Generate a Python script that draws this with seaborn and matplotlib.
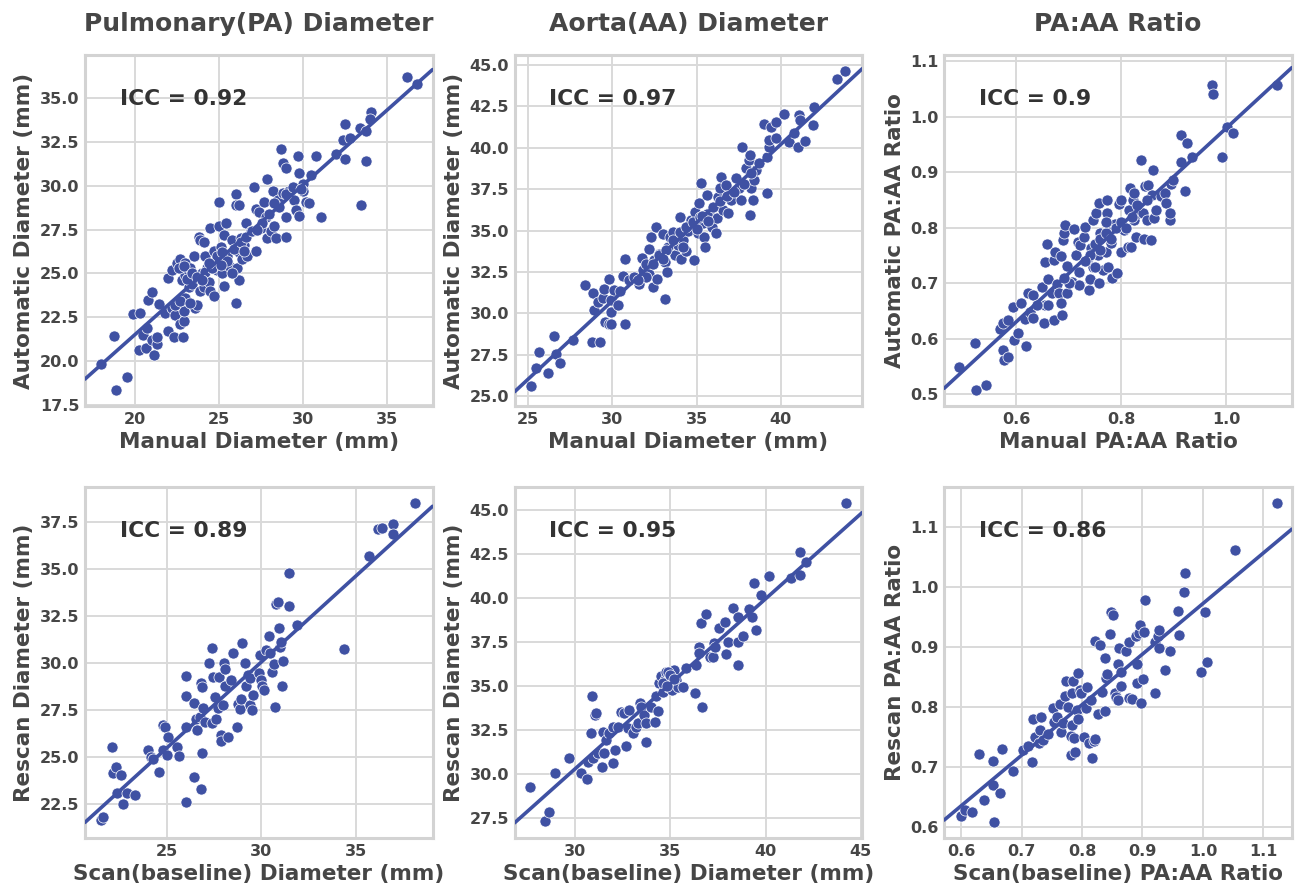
import numpy as np
import pandas as pd
import matplotlib
matplotlib.use("Agg")
import matplotlib.pyplot as plt
from matplotlib.ticker import MultipleLocator
import seaborn as sns

# ---------------- data ----------------
# Panel 1: Pulmonary (PA) diameter, manual vs automatic
pa_manual = [17.98, 18.87, 18.77, 19.5, 19.9, 20.3, 20.26, 20.65, 20.5, 20.73, 20.8, 21.0, 21.0, 21.13, 21.29,
             21.33, 21.45, 21.78, 21.98, 21.98, 22.2, 22.4, 22.34, 22.87, 22.7, 22.9, 22.9, 22.2, 22.5, 22.7,
             22.8, 23.0, 23.0, 23.2, 23.3, 23.0, 23.2, 23.4, 23.6, 23.7, 23.5, 23.8, 23.9, 24.1, 24.0,
             23.9, 24.1, 24.2, 24.3, 24.4, 24.5, 24.5, 24.7, 24.7, 24.6, 24.9, 25.0, 25.0, 25.1, 25.2,
             25.3, 25.3, 25.4, 25.5, 25.6, 25.8, 26.0, 26.0, 26.2, 26.0, 26.1, 26.2, 26.2, 26.3, 26.4,
             26.5, 26.6, 26.7, 26.9, 27.1, 27.2, 27.2, 27.4, 27.5, 27.7, 27.8, 27.9, 27.9, 28.1, 28.2,
             28.3, 28.4, 28.5, 28.7, 28.8, 28.8, 29.0, 29.0, 29.0, 29.2, 29.5, 29.6, 29.7, 29.8, 29.8,
             30.0, 30.0, 30.2, 30.4, 30.5, 30.8, 31.1, 32.0, 32.4, 32.5, 32.5, 32.8, 33.4, 33.5, 33.8,
             33.8, 34.1, 34.0, 36.2, 36.8,
             22.6, 22.9, 23.1, 23.4, 23.7, 24.2, 24.6, 24.9, 25.2, 25.5, 25.9, 26.3, 26.6, 27.0, 27.6,
             28.0, 28.6, 29.0, 29.4, 22.4, 22.7, 23.3, 24.0, 25.8, 26.5, 28.3, 29.9, 27.3, 25.1, 24.4]
pa_auto = [19.83, 18.35, 21.43, 19.1, 22.7, 22.77, 20.63, 20.77, 21.5, 21.87, 23.5, 23.95, 21.2, 20.35, 20.97,
           21.35, 23.26, 22.73, 21.72, 24.73, 23.0, 22.6, 21.4, 21.4, 22.1, 22.3, 22.85, 25.2, 25.6, 25.8,
           24.6, 25.6, 24.9, 25.1, 25.3, 23.6, 24.2, 24.4, 23.0, 23.2, 26.0, 27.1, 26.9, 26.8, 25.0,
           24.0, 24.2, 26.0, 25.3, 24.5, 27.6, 24.0, 23.7, 26.3, 25.6, 25.2, 27.7, 29.1, 26.5, 25.0,
           24.3, 27.2, 27.9, 26.0, 25.4, 26.9, 29.5, 28.9, 28.9, 23.3, 25.3, 24.6, 26.2, 27.0, 25.8,
           26.6, 27.9, 26.0, 27.4, 29.9, 28.7, 26.3, 28.5, 27.6, 29.1, 28.2, 30.4, 27.0, 27.4, 29.7,
           27.7, 27.0, 29.2, 32.1, 29.6, 31.3, 31.0, 28.2, 27.1, 29.7, 29.2, 28.6, 31.7, 30.7, 28.3,
           30.1, 29.7, 29.1, 29.0, 30.6, 31.7, 28.2, 31.8, 32.6, 33.5, 31.5, 32.7, 33.3, 28.9, 33.1,
           31.4, 34.2, 33.8, 36.2, 35.8,
           25.3, 25.4, 24.7, 25.0, 24.8, 25.1, 25.3, 26.0, 26.2, 25.7, 26.4, 26.8, 27.1, 27.4, 27.9,
           28.4, 28.8, 29.5, 29.9, 23.2, 23.4, 23.3, 24.6, 25.0, 26.3, 29.0, 29.8, 27.5, 25.5, 25.6]

# Panel 2: Aorta (AA) diameter, manual vs automatic
aa_manual = [25.16, 25.5, 25.63, 26.18, 26.54, 26.68, 26.9, 27.7, 28.38, 28.8, 29.3, 28.85, 28.9, 29.15, 29.44,
             29.54, 29.6, 29.8, 29.93, 29.78, 29.93, 29.93, 30.13, 30.35, 30.47, 30.74, 30.74, 30.66, 31.0, 31.3,
             31.57, 31.75, 31.85, 32.0, 32.16, 32.2, 32.3, 32.4, 32.5, 32.6, 32.66, 32.8, 33.0, 33.1, 33.15,
             33.23, 33.3, 33.4, 33.62, 33.75, 33.88, 34.0, 34.08, 34.22, 34.38, 34.48, 34.67, 34.87, 34.9, 35.07,
             35.17, 35.25, 35.37, 35.46, 35.52, 35.6, 35.76, 35.9, 36.15, 36.2, 36.3, 36.4, 36.45, 36.55, 36.75,
             36.84, 37.04, 37.33, 37.53, 37.63, 37.7, 37.93, 38.13, 38.16, 38.16, 38.22, 38.32, 38.42, 38.5, 38.7,
             39.0, 39.15, 39.2, 39.27, 39.27, 39.4, 39.7, 39.7, 40.2, 40.5, 40.8, 41.0, 41.05, 41.13, 41.44,
             41.88, 41.97, 43.3, 43.8,
             32.4, 32.8, 33.2, 33.6, 34.0, 34.4, 34.8, 35.2, 35.6, 36.0, 36.4, 36.8, 32.0, 31.5, 33.0,
             34.2, 35.0, 35.3, 35.7, 37.2, 37.8, 38.2]
aa_auto = [25.6, 26.67, 27.67, 26.4, 28.62, 27.57, 27.0, 28.4, 31.7, 28.28, 28.28, 31.2, 30.2, 30.7, 30.9,
           31.44, 29.48, 29.33, 29.38, 32.1, 30.1, 30.8, 31.4, 30.5, 31.36, 29.35, 33.3, 32.25, 32.0, 32.17,
           31.74, 33.37, 32.6, 33.0, 32.4, 33.9, 34.6, 31.6, 33.2, 35.23, 32.1, 33.6, 34.8, 30.84, 33.1,
           32.5, 34.0, 34.6, 34.93, 33.5, 34.1, 35.8, 33.3, 34.4, 33.78, 35.0, 35.63, 33.2, 36.1, 34.83,
           36.64, 37.85, 35.43, 34.6, 34.0, 37.14, 36.04, 35.23, 34.87, 35.73, 37.04, 37.55, 38.25, 36.24, 37.75,
           36.04, 36.84, 38.15, 37.55, 36.84, 40.02, 38.75, 39.26, 39.56, 35.93, 37.55, 36.84, 38.05, 38.65, 39.06,
           41.43, 37.28, 39.42, 40.06, 40.47, 41.27, 41.57, 40.57, 42.04, 40.37, 40.9, 40.06, 41.98, 41.68, 40.43,
           41.37, 42.44, 44.15, 44.66,
           33.0, 33.5, 33.8, 34.4, 34.9, 35.2, 35.5, 35.8, 36.0, 36.4, 36.8, 37.1, 32.2, 32.0, 33.3,
           34.0, 35.1, 35.9, 35.6, 37.3, 37.8, 38.5]

# Panel 3: PA:AA ratio, manual vs automatic
ratio_manual = [0.491, 0.520, 0.523, 0.541, 0.568, 0.574, 0.576, 0.584, 0.574, 0.584, 0.594, 0.595, 0.602, 0.608,
                0.616, 0.619, 0.622, 0.626, 0.632, 0.632, 0.648, 0.652, 0.654, 0.655, 0.658, 0.661, 0.667, 0.671,
                0.671, 0.674, 0.677, 0.682, 0.685, 0.685, 0.687, 0.689, 0.691, 0.692, 0.696, 0.697, 0.706, 0.709,
                0.714, 0.717, 0.719, 0.722, 0.728, 0.731, 0.735, 0.738, 0.740, 0.742, 0.746, 0.747, 0.751, 0.755,
                0.757, 0.757, 0.760, 0.765, 0.770, 0.772, 0.773, 0.774, 0.778, 0.781, 0.783, 0.789, 0.791, 0.796,
                0.799, 0.800, 0.805, 0.812, 0.815, 0.817, 0.819, 0.823, 0.824, 0.824, 0.828, 0.832, 0.838, 0.842,
                0.844, 0.845, 0.850, 0.851, 0.856, 0.858, 0.860, 0.863, 0.866, 0.876, 0.883, 0.885, 0.894, 0.894,
                0.895, 0.899, 0.914, 0.915, 0.921, 0.926, 0.935, 0.974, 0.975, 0.992, 1.001, 1.013, 1.097,
                0.74, 0.75, 0.76, 0.77, 0.78, 0.79, 0.80, 0.76, 0.73, 0.72, 0.70, 0.69, 0.66, 0.64, 0.81,
                0.82, 0.83, 0.85, 0.77, 0.75]
ratio_auto = [0.550, 0.592, 0.508, 0.516, 0.617, 0.580, 0.562, 0.567, 0.628, 0.633, 0.658, 0.597, 0.610, 0.665,
              0.635, 0.587, 0.682, 0.649, 0.637, 0.679, 0.694, 0.628, 0.660, 0.738, 0.770, 0.707, 0.683, 0.634,
              0.742, 0.757, 0.699, 0.682, 0.749, 0.664, 0.643, 0.778, 0.790, 0.804, 0.731, 0.682, 0.702, 0.797,
              0.750, 0.774, 0.697, 0.768, 0.784, 0.802, 0.742, 0.687, 0.708, 0.763, 0.814, 0.730, 0.826, 0.751,
              0.700, 0.845, 0.790, 0.723, 0.757, 0.850, 0.826, 0.730, 0.796, 0.772, 0.709, 0.807, 0.718, 0.843,
              0.757, 0.850, 0.796, 0.766, 0.831, 0.871, 0.765, 0.850, 0.862, 0.814, 0.784, 0.826, 0.921, 0.826,
              0.779, 0.875, 0.813, 0.877, 0.778, 0.859, 0.903, 0.817, 0.832, 0.857, 0.862, 0.844, 0.814, 0.826,
              0.879, 0.886, 0.918, 0.967, 0.866, 0.952, 0.927, 1.056, 1.040, 0.928, 0.981, 0.970, 1.056,
              0.75, 0.77, 0.78, 0.79, 0.78, 0.80, 0.81, 0.76, 0.74, 0.72, 0.70, 0.71, 0.66, 0.66, 0.80,
              0.82, 0.84, 0.85, 0.81, 0.73]

# Panel 4: PA diameter, scan vs rescan
pa_scan = [21.54, 21.67, 22.1, 22.19, 22.33, 22.58, 22.4, 22.68, 22.9, 23.33, 24.04, 24.16, 24.3, 24.61, 24.79,
           24.82, 24.91, 25.0, 25.09, 25.56, 25.67, 26.0, 26.05, 26.05, 26.02, 26.44, 26.46, 26.54, 26.6, 26.75,
           26.79, 26.86, 26.84, 26.88, 26.93, 27.02, 27.25, 27.4, 27.46, 27.4, 27.54, 27.6, 27.72, 27.77, 27.89,
           27.86, 27.95, 28.02, 28.07, 28.09, 28.25, 28.42, 28.51, 28.72, 28.77, 28.86, 28.95, 29.0, 29.12, 29.18,
           29.3, 29.39, 29.42, 29.53, 29.56, 29.88, 29.91, 30.0, 30.05, 30.14, 30.26, 30.4, 30.47, 30.58, 30.65,
           30.7, 30.75, 30.89, 30.93, 30.96, 31.02, 31.11, 31.16, 31.46, 31.46, 31.89, 34.35, 35.65, 36.14, 36.37,
           36.96, 36.96, 38.12]
pa_rescan = [21.63, 21.81, 25.54, 24.15, 24.47, 24.03, 23.05, 22.46, 23.05, 22.96, 25.36, 25.0, 24.9, 24.2, 25.36,
             26.69, 26.6, 25.1, 26.07, 25.5, 25.04, 29.3, 28.23, 26.6, 22.6, 27.84, 23.94, 26.99, 26.42, 27.13,
             28.94, 28.73, 23.26, 25.18, 27.58, 26.87, 30.01, 30.81, 29.23, 26.78, 28.2, 26.99, 27.58, 29.23, 26.16,
             25.84, 27.75, 30.01, 28.77, 29.65, 26.07, 29.09, 30.5, 26.6, 27.79, 27.52, 28.06, 31.04, 30.01, 28.77,
             29.35, 27.75, 29.17, 27.49, 28.29, 29.44, 30.42, 29.09, 28.77, 28.55, 30.68, 31.43, 30.5, 29.53, 29.94,
             27.67, 33.12, 33.26, 31.84, 30.86, 31.13, 28.77, 30.1, 34.77, 33.03, 32.01, 30.75, 35.69, 37.11, 37.2,
             37.38, 36.86, 38.53]

# Panel 5: AA diameter, scan vs rescan
aa_scan = [27.65, 28.42, 28.65, 28.93, 29.68, 30.32, 30.63, 30.67, 30.89, 30.84, 30.93, 31.02, 31.1, 31.19, 31.4,
           31.45, 31.49, 31.63, 31.8, 31.98, 32.01, 32.1, 32.24, 32.42, 32.59, 32.68, 32.77, 32.85, 33.03, 33.2,
           33.29, 33.38, 33.47, 33.64, 33.7, 33.73, 34.0, 34.17, 34.22, 34.34, 34.4, 34.52, 34.61, 34.7, 34.78,
           34.87, 34.96, 35.1, 35.17, 35.31, 35.4, 35.66, 35.8, 36.3, 36.36, 36.5, 36.5, 36.62, 36.67, 36.85,
           37.06, 37.23, 37.27, 37.32, 37.55, 37.85, 37.9, 38.02, 38.28, 38.55, 38.55, 38.55, 38.81, 39.12, 39.3,
           39.37, 39.47, 39.77, 40.16, 41.35, 41.82, 41.82, 42.1, 44.2,
           34.6, 34.9, 35.0, 35.2, 34.8]
aa_rescan = [29.24, 27.33, 27.86, 30.04, 30.89, 30.04, 29.7, 30.7, 34.43, 32.35, 30.89, 33.35, 33.48, 31.17, 30.42,
             32.41, 31.17, 31.93, 32.31, 30.64, 32.69, 31.36, 32.69, 33.54, 33.45, 31.59, 32.59, 33.64, 32.31, 32.69,
             32.88, 34.02, 33.83, 33.35, 31.84, 32.88, 33.83, 32.94, 34.43, 33.6, 35.15, 35.57, 34.68, 35.34, 35.81,
             34.96, 35.53, 34.77, 35.91, 35.34, 34.96, 34.96, 36.0, 34.58, 36.19, 37.24, 36.86, 38.6, 33.83, 39.09,
             36.67, 36.67, 37.46, 37.2, 38.28, 38.66, 36.82, 37.52, 39.41, 37.52, 38.94, 36.19, 37.84, 39.36, 38.94,
             40.83, 38.18, 40.17, 41.27, 41.12, 41.31, 42.63, 42.03, 45.42,
             35.2, 35.8, 35.6, 35.4, 35.0]

# Panel 6: PA:AA ratio, scan vs rescan
ratio_scan = [0.599, 0.607, 0.618, 0.629, 0.638, 0.653, 0.653, 0.654, 0.664, 0.667, 0.685, 0.703, 0.711, 0.717,
              0.719, 0.723, 0.728, 0.731, 0.732, 0.736, 0.743, 0.752, 0.753, 0.759, 0.764, 0.765, 0.768, 0.771,
              0.774, 0.776, 0.781, 0.782, 0.783, 0.783, 0.785, 0.786, 0.788, 0.791, 0.794, 0.794, 0.797, 0.798,
              0.804, 0.807, 0.809, 0.811, 0.814, 0.817, 0.819, 0.822, 0.821, 0.826, 0.829, 0.833, 0.838, 0.838,
              0.840, 0.842, 0.846, 0.848, 0.852, 0.854, 0.856, 0.859, 0.859, 0.861, 0.865, 0.865, 0.872, 0.877,
              0.878, 0.883, 0.889, 0.891, 0.891, 0.894, 0.896, 0.897, 0.901, 0.903, 0.904, 0.921, 0.921, 0.925,
              0.927, 0.928, 0.937, 0.946, 0.958, 0.961, 0.969, 0.971, 0.996, 1.003, 1.007, 1.053, 1.123]
ratio_rescan = [0.618, 0.627, 0.625, 0.721, 0.644, 0.669, 0.710, 0.607, 0.656, 0.729, 0.693, 0.727, 0.734, 0.707,
                0.779, 0.749, 0.739, 0.761, 0.782, 0.744, 0.754, 0.797, 0.775, 0.782, 0.804, 0.757, 0.772, 0.818,
                0.842, 0.799, 0.719, 0.751, 0.769, 0.822, 0.843, 0.747, 0.724, 0.794, 0.779, 0.856, 0.828, 0.822,
                0.750, 0.797, 0.832, 0.740, 0.811, 0.715, 0.743, 0.746, 0.910, 0.787, 0.903, 0.824, 0.793, 0.881,
                0.847, 0.854, 0.921, 0.958, 0.953, 0.822, 0.816, 0.811, 0.871, 0.897, 0.857, 0.835, 0.893, 0.908,
                0.814, 0.812, 0.918, 0.871, 0.840, 0.922, 0.936, 0.806, 0.846, 0.925, 0.978, 0.822, 0.907, 0.917,
                0.927, 0.897, 0.861, 0.893, 0.960, 0.919, 0.991, 1.022, 0.857, 0.957, 0.875, 1.061, 1.140]

titles = ["Pulmonary(PA) Diameter", "Aorta(AA) Diameter", "PA:AA Ratio"]
icc_values = ["0.92", "0.97", "0.9", "0.89", "0.95", "0.86"]
x_labels = ["Manual Diameter (mm)", "Manual Diameter (mm)", "Manual PA:AA Ratio",
            "Scan(baseline) Diameter (mm)", "Scan(baseline) Diameter (mm)", "Scan(baseline) PA:AA Ratio"]
y_labels = ["Automatic Diameter (mm)", "Automatic Diameter (mm)", "Automatic PA:AA Ratio",
            "Rescan Diameter (mm)", "Rescan Diameter (mm)", "Rescan PA:AA Ratio"]

panels = [(pa_manual, pa_auto), (aa_manual, aa_auto), (ratio_manual, ratio_auto),
          (pa_scan, pa_rescan), (aa_scan, aa_rescan), (ratio_scan, ratio_rescan)]

# axis settings (layout)
xlims = [(17.02, 37.74), (24.21, 44.82), (0.462, 1.1256), (20.7, 39.02), (26.82, 45.07), (0.572, 1.147)]
ylims = [(17.44, 37.45), (24.4, 45.6), (0.479, 1.1108), (20.67, 39.36), (26.36, 46.31), (0.581, 1.166)]
xsteps = [5, 5, 0.2, 5, 5, 0.1]
ysteps = [2.5, 2.5, 0.1, 2.5, 2.5, 0.1]

# ---------------- style ----------------
sns.set_theme(style="whitegrid", rc={
    "axes.edgecolor": "#d3d3d3",
    "axes.linewidth": 2.2,
    "grid.color": "#d9d9d9",
    "grid.linewidth": 1.4,
    "axes.labelcolor": "#464646",
    "xtick.color": "#464646",
    "ytick.color": "#464646",
    "text.color": "#464646",
})
plt.rcParams["font.family"] = ["DejaVu Sans"]

point_color = "#3f51a3"
text_dark = "#333333"

fig, axes = plt.subplots(2, 3, figsize=(12.97, 8.88), dpi=100)
fig.subplots_adjust(left=0.0655, right=0.996, top=0.938, bottom=0.0563, wspace=0.236, hspace=0.231)

for i, ax in enumerate(axes.flat):
    xs, ys = panels[i]
    df = pd.DataFrame({"x": xs, "y": ys})
    ax.set_xlim(*xlims[i])
    ax.set_ylim(*ylims[i])
    sns.regplot(data=df, x="x", y="y", ax=ax, ci=None, truncate=False,
                color=point_color,
                scatter_kws={"s": 64, "edgecolor": "white", "linewidths": 0.5, "alpha": 1.0, "zorder": 3},
                line_kws={"linewidth": 2.6, "zorder": 4})
    ax.set_xlim(*xlims[i])
    ax.set_ylim(*ylims[i])
    ax.xaxis.set_major_locator(MultipleLocator(xsteps[i]))
    ax.yaxis.set_major_locator(MultipleLocator(ysteps[i]))
    for lbl in ax.get_xticklabels() + ax.get_yticklabels():
        lbl.set_fontweight("bold")
        lbl.set_fontsize(11.5)
    ax.tick_params(axis="both", which="both", length=0, pad=4)
    ax.set_xlabel(x_labels[i], fontsize=15.5, fontweight="bold", labelpad=4)
    ax.set_ylabel(y_labels[i], fontsize=15.5, fontweight="bold", labelpad=4)
    ax.text(0.1, 0.875, f"ICC = {icc_values[i]}", transform=ax.transAxes, fontsize=15.7,
            fontweight="bold", color=text_dark, va="center", ha="left", zorder=5)
    for sp in ax.spines.values():
        sp.set_visible(True)
        sp.set_color("#d3d3d3")
        sp.set_linewidth(2.2)
    if i < 3:
        ax.set_title(titles[i], fontsize=18, fontweight="bold", pad=17, color="#464646")

fig.savefig("out.png", dpi=100)
